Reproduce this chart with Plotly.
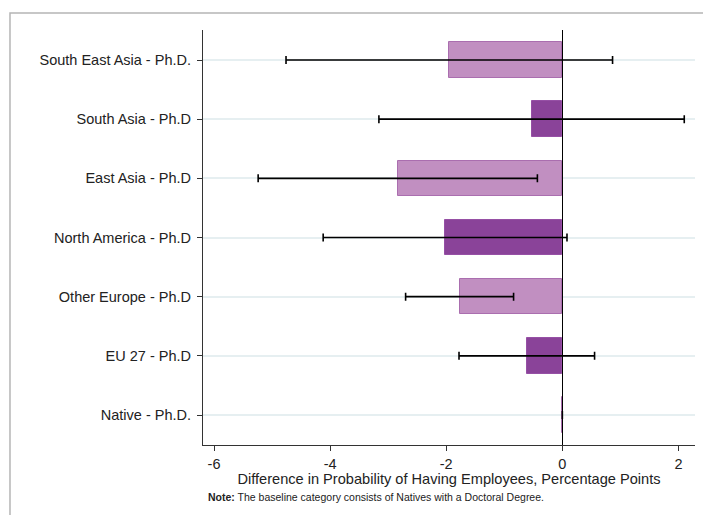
import plotly.graph_objects as go

# Estimates and 95% confidence bounds (percentage points), bottom row first
categories = ["Native - Ph.D.", "EU 27 - Ph.D", "Other Europe - Ph.D", "North America - Ph.D",
              "East Asia - Ph.D", "South Asia - Ph.D", "South East Asia - Ph.D."]
estimates = [0.0, -0.61, -1.77, -2.02, -2.83, -0.52, -1.95]
ci_low = [0.0, -1.78, -2.70, -4.12, -5.24, -3.16, -4.76]
ci_high = [0.0, 0.555, -0.84, 0.08, -0.43, 2.10, 0.865]
x_ticks = [-6, -4, -2, 0, 2]
x_tick_labels = ["-6", "-4", "-2", "0", "2"]

DARK = "rgb(138,67,153)"
LIGHT = "rgb(193,143,193)"
bar_colors = [DARK if i % 2 == 1 else LIGHT for i in range(len(categories))]
edge_colors = ["rgb(150,80,165)" if i % 2 == 1 else "rgb(170,110,175)" for i in range(len(categories))]

ypos = list(range(len(categories)))
err_plus = [h - e for h, e in zip(ci_high, estimates)]
err_minus = [e - l for e, l in zip(estimates, ci_low)]

fig = go.Figure()
fig.add_trace(go.Bar(
    x=estimates, y=ypos, orientation="h", width=0.6,
    marker=dict(color=bar_colors, line=dict(color=edge_colors, width=1)),
    error_x=dict(type="data", symmetric=False, array=err_plus, arrayminus=err_minus,
                 color="black", thickness=1.6, width=4),
    showlegend=False,
))

font_family = "Liberation Sans, Arial, sans-serif"

fig.update_layout(
    width=703, height=515,
    margin=dict(l=203, r=8, t=30, b=70),
    paper_bgcolor="white", plot_bgcolor="white",
    font=dict(family=font_family, color="#222222", size=14),
    bargap=0,
    xaxis=dict(
        range=[-6.19, 2.285], tickvals=x_ticks, ticktext=x_tick_labels,
        showgrid=False, zeroline=True, zerolinecolor="black", zerolinewidth=1,
        showline=True, linecolor="#333333", linewidth=1.2,
        ticks="outside", ticklen=5, tickcolor="#333333",
        tickfont=dict(size=14.5),
        title=dict(text="Difference in Probability of Having Employees, Percentage Points",
                   font=dict(size=14.6), standoff=2),
    ),
    yaxis=dict(
        range=[-0.507, 6.507], tickvals=ypos, ticktext=categories,
        showgrid=True, gridcolor="#e6eff1", gridwidth=1.5,
        zeroline=False, showline=True, linecolor="#333333", linewidth=1.2,
        ticks="outside", ticklen=5, tickcolor="#333333",
        tickfont=dict(size=14.5), ticklabelstandoff=3,
    ),
    shapes=[dict(type="rect", xref="paper", yref="paper",
                 x0=-0.3923, x1=1.2, y0=-0.5, y1=1.041,
                 line=dict(color="#b5b5b5", width=1.5), layer="below")],
    annotations=[dict(
        text="<b>Note:</b> The baseline category consists of Natives with a Doctoral Degree.",
        xref="paper", yref="paper", x=0.006, y=-0.125, xanchor="left", yanchor="middle",
        showarrow=False, font=dict(size=10.5, color="#222222"),
    )],
)

fig.write_html("out.html")
